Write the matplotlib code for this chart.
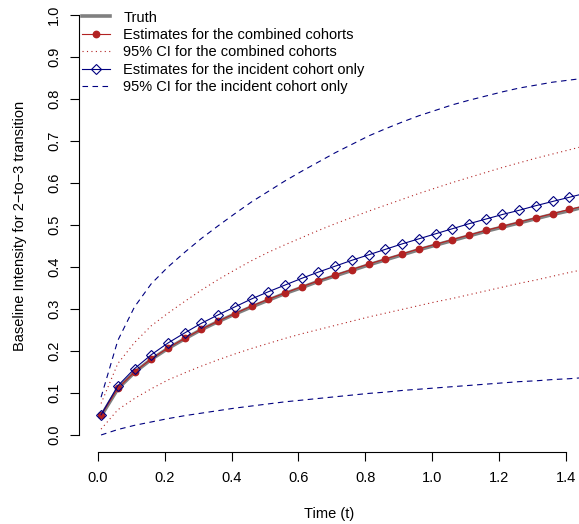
import numpy as np
import matplotlib
matplotlib.use("Agg")
import matplotlib.pyplot as plt

plt.rcParams['font.family'] = ['Liberation Sans', 'DejaVu Sans']

# Zeitpunkte der Schaetzungen (letzter Punkt liegt knapp ausserhalb des Plotbereichs)
t = [0.01, 0.06, 0.11, 0.16, 0.21, 0.26, 0.31, 0.36, 0.41, 0.46,
     0.51, 0.56, 0.61, 0.66, 0.71, 0.76, 0.81, 0.86, 0.91, 0.96,
     1.01, 1.06, 1.11, 1.16, 1.21, 1.26, 1.31, 1.36, 1.41, 1.46]

truth = [0.045, 0.110, 0.149, 0.180, 0.206, 0.229, 0.251, 0.270, 0.288, 0.305,
         0.321, 0.337, 0.351, 0.366, 0.379, 0.392, 0.405, 0.417, 0.429, 0.441,
         0.452, 0.463, 0.474, 0.485, 0.495, 0.505, 0.515, 0.525, 0.534, 0.544]

# kombinierte Kohorten
est_comb = [0.047, 0.111, 0.150, 0.181, 0.207, 0.230, 0.252, 0.271, 0.289, 0.307,
            0.323, 0.338, 0.353, 0.367, 0.381, 0.394, 0.407, 0.419, 0.431, 0.443,
            0.454, 0.465, 0.476, 0.487, 0.497, 0.507, 0.517, 0.527, 0.537, 0.546]
ci_comb_hi = [0.075, 0.170, 0.220, 0.260, 0.290, 0.318, 0.345, 0.370, 0.393, 0.415,
              0.435, 0.453, 0.470, 0.487, 0.503, 0.518, 0.533, 0.547, 0.561, 0.575,
              0.588, 0.601, 0.613, 0.625, 0.637, 0.648, 0.659, 0.669, 0.679, 0.689]
ci_comb_lo = [0.014, 0.060, 0.087, 0.110, 0.131, 0.148, 0.164, 0.179, 0.193, 0.206,
              0.218, 0.230, 0.241, 0.251, 0.261, 0.271, 0.281, 0.290, 0.299, 0.308,
              0.317, 0.325, 0.334, 0.343, 0.352, 0.361, 0.369, 0.378, 0.387, 0.395]

# nur inzidente Kohorte
est_inc = [0.048, 0.117, 0.158, 0.191, 0.219, 0.243, 0.266, 0.286, 0.305, 0.324,
           0.341, 0.357, 0.373, 0.388, 0.402, 0.416, 0.429, 0.442, 0.455, 0.467,
           0.479, 0.491, 0.503, 0.514, 0.525, 0.535, 0.546, 0.556, 0.566, 0.576]
ci_inc_hi = [0.090, 0.225, 0.305, 0.360, 0.400, 0.435, 0.468, 0.498, 0.527, 0.555,
             0.580, 0.605, 0.628, 0.650, 0.672, 0.692, 0.712, 0.729, 0.745, 0.760,
             0.773, 0.786, 0.797, 0.807, 0.817, 0.826, 0.833, 0.840, 0.845, 0.850]
ci_inc_lo = [0.000, 0.013, 0.023, 0.031, 0.039, 0.046, 0.052, 0.058, 0.064, 0.069,
             0.074, 0.079, 0.083, 0.087, 0.091, 0.095, 0.099, 0.102, 0.106, 0.109,
             0.112, 0.115, 0.118, 0.121, 0.124, 0.127, 0.129, 0.132, 0.134, 0.137]

xticks = [0.0, 0.2, 0.4, 0.6, 0.8, 1.0, 1.2, 1.4]
yticks = [0.0, 0.1, 0.2, 0.3, 0.4, 0.5, 0.6, 0.7, 0.8, 0.9, 1.0]

red = '#B22222'
blue = '#000080'
fs = 10.5

fig = plt.figure(figsize=(5.79, 5.24), dpi=100)
ax = fig.add_axes([79 / 579, 72 / 524, 500 / 579, 452 / 524])

ax.plot(t, truth, color='#808080', lw=2.6, label='Truth', zorder=2)
ax.plot(t, est_comb, color=red, lw=0.8, marker='o', ms=4.6, mec=red, mfc=red,
        label='Estimates for the combined cohorts', zorder=3)
ax.plot(t, ci_comb_hi, color=red, lw=0.8, ls=(0, (1, 3)),
        label='95% CI for the combined cohorts', zorder=2)
ax.plot(t, ci_comb_lo, color=red, lw=0.8, ls=(0, (1, 3)), zorder=2)
ax.plot(t, est_inc, color=blue, lw=0.8, marker='D', ms=4.7, mec=blue, mfc='none',
        mew=0.8, label='Estimates for the incident cohort only', zorder=4)
ax.plot(t, ci_inc_hi, color=blue, lw=0.8, ls=(0, (5, 4)),
        label='95% CI for the incident cohort only', zorder=2)
ax.plot(t, ci_inc_lo, color=blue, lw=0.8, ls=(0, (5, 4)), zorder=2)

ax.set_xlim(-0.056, 1.439)
ax.set_ylim(-0.0405, 1.0357)

for s in ['top', 'right']:
    ax.spines[s].set_visible(False)
ax.spines['left'].set_bounds(0, 1)
ax.spines['bottom'].set_bounds(0, 1.4)
ax.spines['left'].set_linewidth(0.8)
ax.spines['bottom'].set_linewidth(0.8)

ax.set_xticks(xticks)
ax.set_xticklabels([f'{v:.1f}' for v in xticks])
ax.set_yticks(yticks)
ax.set_yticklabels([f'{v:.1f}' for v in yticks], rotation=90, va='center')
ax.tick_params(axis='x', length=6.5, width=0.8, pad=7.3, labelsize=fs)
ax.tick_params(axis='y', length=6.5, width=0.8, pad=6.5, labelsize=fs)

ax.set_xlabel('Time (t)', fontsize=fs, labelpad=16)
ax.set_ylabel('Baseline Intensity for 2\u2212to\u22123 transition', fontsize=fs, labelpad=14)

ax.legend(loc='upper left', bbox_to_anchor=(82 / 579, 1 - 10.5 / 524),
          bbox_transform=fig.transFigure, frameon=False, fontsize=fs,
          borderpad=0, borderaxespad=0, handlelength=1.93, handletextpad=0.9,
          labelspacing=0.24, numpoints=1)

fig.savefig('out.png', dpi=100)
